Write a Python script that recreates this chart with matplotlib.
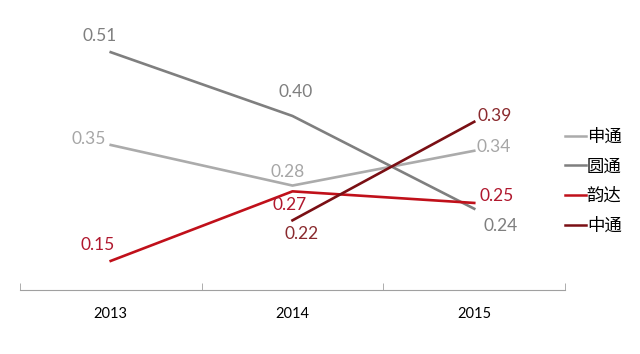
import matplotlib.pyplot as plt
import numpy as np

plt.rcParams['font.family'] = ['Lato', 'Noto Sans CJK SC', 'DejaVu Sans']

years = ['2013', '2014', '2015']
names = ['申通', '圆通', '韵达', '中通']
shentong = [0.35, 0.28, 0.34]
yuantong = [0.51, 0.40, 0.24]
yunda = [0.15, 0.27, 0.25]
zhongtong = [np.nan, 0.22, 0.39]

line_colors = ['#ABABAB', '#7F7F7F', '#C0101A', '#7A0F14']
text_colors = ['#A6A6A6', '#7F7F7F', '#B0182E', '#8A2A2E']

# label offsets in pixels (dx, dy) and alignment per point
offsets = [
    [(-5, 6, 'right'), (-22, 14, 'left'), (2, 4, 'left')],
    [(-28, 16, 'left'), (-14, 24, 'left'), (9, -17, 'left')],
    [(-30, 16, 'left'), (-20, -14, 'left'), (5, 7, 'left')],
    [None, (-8, -14, 'left'), (3, 6, 'left')],
]

fig = plt.figure(figsize=(6.4, 3.54), dpi=100)
ax = fig.add_axes([0.031, 0.181, 0.852, 0.819])

x = np.arange(len(years))
series = [shentong, yuantong, yunda, zhongtong]
for i, vals in enumerate(series):
    ax.plot(x, vals, color=line_colors[i], lw=1.9, label=names[i])
    for j, v in enumerate(vals):
        if np.isnan(v):
            continue
        dx, dy, ha = offsets[i][j]
        ax.annotate(f'{v:.2f}', (x[j], v), xytext=(dx, dy), textcoords='offset pixels',
                    ha=ha, va='center', color=text_colors[i], fontsize=12.5)

ax.set_xlim(-0.5, 2.5)
ax.set_ylim(0.1, 0.6)
ax.set_xticks(x)
ax.set_xticklabels(years, fontsize=10.5)
ax.set_xticks([-0.5, 0.5, 1.5, 2.5], minor=True)
ax.tick_params(axis='x', which='major', length=0, pad=12)
ax.tick_params(axis='x', which='minor', length=5, color='#A0A0A0', direction='in')
ax.set_yticks([])
for s in ['top', 'right', 'left']:
    ax.spines[s].set_visible(False)
ax.spines['bottom'].set_color('#A0A0A0')

leg = ax.legend(loc='center left', bbox_to_anchor=(1.0, 0.375), frameon=False,
                fontsize=12.5, handlelength=1.2, handletextpad=0.05, labelspacing=0.77,
                borderpad=0, borderaxespad=0)
for h in leg.get_lines():
    h.set_linewidth(1.8)

fig.savefig('out.png', dpi=100)
